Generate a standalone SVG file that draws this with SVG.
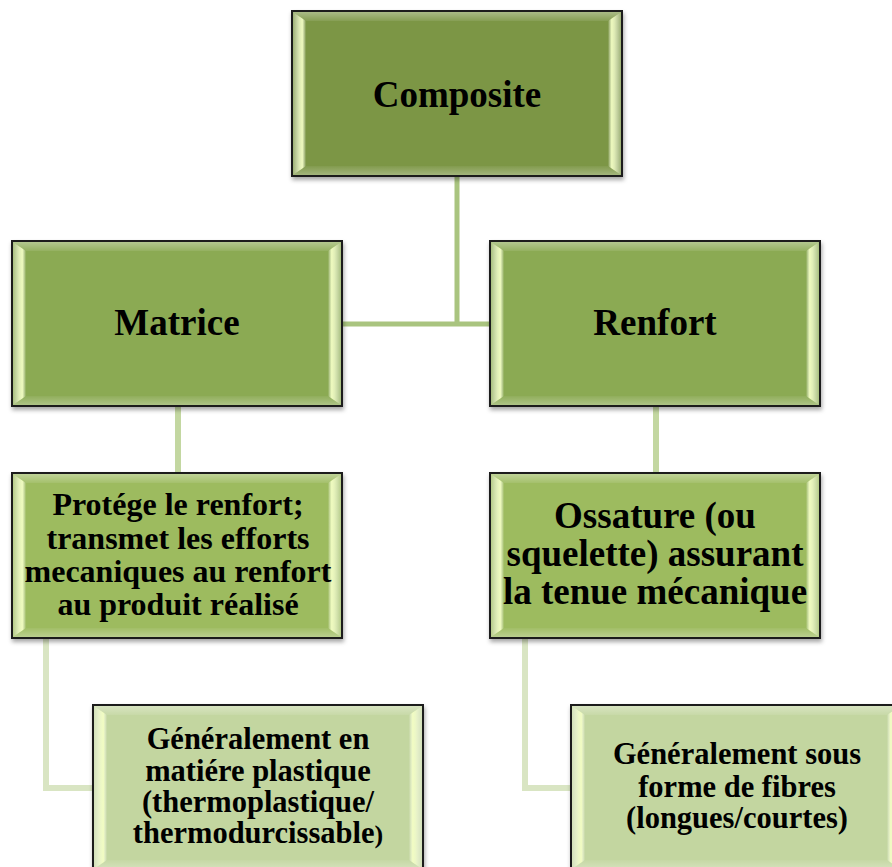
<svg xmlns="http://www.w3.org/2000/svg" width="892" height="867" viewBox="0 0 892 867">
  <defs>
    <style>
      .box { stroke: #1e1e1e; stroke-width: 2; }
      .lvl0 { fill: #7b9645; }
      .lvl1 { fill: #8baa52; }
      .lvl2 { fill: #9dbb5f; }
      .lvl3 { fill: #c3d6a0; }
      .label { font-family: "Liberation Serif", "Times New Roman", serif; font-weight: bold; fill: #000; text-anchor: middle; }
      .big { font-size: 37px; }
      .small { font-size: 30.5px; }
      .link { fill: none; stroke-linejoin: miter; stroke-linecap: butt; }
      .link-a { stroke: #a9c47f; stroke-width: 5; }
      .link-b { stroke: #c3d7a1; stroke-width: 6; }
      .link-c { stroke: #d9e5c3; stroke-width: 6; }
    </style>
    <filter id="shadow" x="-5%" y="-5%" width="110%" height="115%">
      <feDropShadow dx="1" dy="3" stdDeviation="2" flood-color="#000" flood-opacity="0.35"/>
    </filter>
    <linearGradient id="bevelL" x1="0" y1="0" x2="1" y2="0">
      <stop offset="0" stop-color="#ffffff" stop-opacity="0.25"/>
      <stop offset="0.5" stop-color="#f6ffd0" stop-opacity="0.8"/>
      <stop offset="0.72" stop-color="#f4ffc4" stop-opacity="0.95"/>
      <stop offset="1" stop-color="#ffffff" stop-opacity="0"/>
    </linearGradient>
    <linearGradient id="bevelR" x1="1" y1="0" x2="0" y2="0">
      <stop offset="0" stop-color="#ffffff" stop-opacity="0.25"/>
      <stop offset="0.5" stop-color="#f6ffd0" stop-opacity="0.8"/>
      <stop offset="0.72" stop-color="#f4ffc4" stop-opacity="0.95"/>
      <stop offset="1" stop-color="#ffffff" stop-opacity="0"/>
    </linearGradient>
    <linearGradient id="bevelT" x1="0" y1="0" x2="0" y2="1">
      <stop offset="0" stop-color="#ffffff" stop-opacity="0.35"/>
      <stop offset="1" stop-color="#ffffff" stop-opacity="0.08"/>
    </linearGradient>
    <linearGradient id="bevelB" x1="0" y1="0" x2="0" y2="1">
      <stop offset="0" stop-color="#ffffff" stop-opacity="0.05"/>
      <stop offset="1" stop-color="#ffffff" stop-opacity="0.3"/>
    </linearGradient>
    <!-- bevel overlay for a 330x165 box, origin at top-left -->
    <g id="bevel">
      <polygon points="1,1 329,1 316,10 14,10" fill="url(#bevelT)"/>
      <polygon points="1,164 329,164 316,155 14,155" fill="url(#bevelB)"/>
      <polygon points="1,1 14,10 14,155 1,164" fill="url(#bevelL)"/>
      <polygon points="329,1 316,10 316,155 329,164" fill="url(#bevelR)"/>
    </g>
  </defs>

  <rect width="892" height="867" fill="#ffffff"/>

  <g id="connectors">
    <path class="link link-a" d="M457,176 V324 M342,324 H490"/>
    <path class="link link-b" d="M178,406 V473"/>
    <path class="link link-b" d="M656,406 V473"/>
    <path class="link link-c" d="M46,638 V788 H93"/>
    <path class="link link-c" d="M525,638 V788 H571"/>
  </g>

  <g id="composite" transform="translate(292,11)">
    <rect class="box lvl0" width="330" height="165" filter="url(#shadow)"/>
    <use href="#bevel"/>
    <text class="label big" x="165" y="96">Composite</text>
  </g>

  <g id="matrice" transform="translate(12,241)">
    <rect class="box lvl1" width="330" height="165" filter="url(#shadow)"/>
    <use href="#bevel"/>
    <text class="label big" x="165" y="94">Matrice</text>
  </g>

  <g id="renfort" transform="translate(490,241)">
    <rect class="box lvl1" width="330" height="165" filter="url(#shadow)"/>
    <use href="#bevel"/>
    <text class="label big" x="165" y="94">Renfort</text>
  </g>

  <g id="matrice-role" transform="translate(12,473)">
    <rect class="box lvl2" width="330" height="165" filter="url(#shadow)"/>
    <use href="#bevel"/>
    <text class="label" font-size="32" x="166" y="42">Protége le renfort;</text>
    <text class="label" font-size="32" x="166" y="75.5">transmet les efforts</text>
    <text class="label" font-size="32" x="166" y="109">mecaniques au renfort</text>
    <text class="label" font-size="32" x="166" y="142">au produit réalisé</text>
  </g>

  <g id="renfort-role" transform="translate(490,473)">
    <rect class="box lvl2" width="330" height="165" filter="url(#shadow)"/>
    <use href="#bevel"/>
    <text class="label big" x="165" y="55">Ossature (ou</text>
    <text class="label big" x="165" y="93">squelette) assurant</text>
    <text class="label big" x="165" y="131">la tenue mécanique</text>
  </g>

  <g id="matrice-type" transform="translate(93,705)">
    <rect class="box lvl3" width="330" height="165" filter="url(#shadow)"/>
    <use href="#bevel"/>
    <text class="label small" x="165" y="44">Généralement en</text>
    <text class="label small" x="165" y="75.5">matiére plastique</text>
    <text class="label small" x="165" y="107">(thermoplastique/</text>
    <text class="label small" x="165" y="138">thermodurcissable<tspan font-size="26">)</tspan></text>
  </g>

  <g id="renfort-type" transform="translate(571,705)">
    <rect class="box lvl3" width="330" height="165" filter="url(#shadow)"/>
    <use href="#bevel"/>
    <text class="label small" x="166" y="59">Généralement sous</text>
    <text class="label small" x="166" y="92">forme de fibres</text>
    <text class="label small" x="166" y="123">(longues/courtes)</text>
  </g>
</svg>
